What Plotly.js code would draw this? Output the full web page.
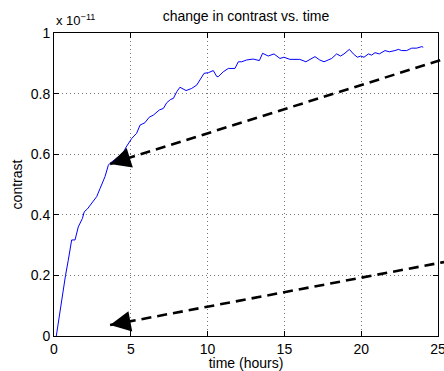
<!DOCTYPE html>
<html>
<head>
<meta charset="utf-8">
<script src="https://cdn.plot.ly/plotly-3.0.1.min.js"></script>
<style>html,body{margin:0;padding:0;background:#fff;}#chart{width:444px;height:371px;}</style>
</head>
<body>
<div id="chart"></div>
<script>
// time in hours
var timeHours = [0.15, 0.6, 0.75, 0.93, 1.15, 1.37, 1.58, 1.85, 1.97, 2.17,
  2.78, 3.0, 3.32, 3.54, 3.65, 4.5, 4.7, 5.06, 5.38, 5.6,
  5.92, 6.2, 6.47, 6.86, 7.12, 7.34, 7.6, 7.77, 7.99, 8.2,
  8.6, 8.96, 9.29, 9.5, 9.77, 10.05, 10.37, 10.6, 10.7, 11.02,
  11.35, 11.78, 12.0, 12.22, 12.54, 12.97, 13.37, 13.58, 13.95, 14.32,
  14.71, 14.97, 15.36, 16.0, 16.4, 16.99, 17.3, 17.58, 17.86, 18.08,
  18.4, 18.66, 18.88, 19.23, 19.49, 19.75, 19.97, 20.18, 20.47, 20.68,
  20.9, 21.18, 21.55, 21.83, 22.2, 22.42, 22.64, 22.96, 23.29, 23.61,
  23.94, 24.04];
// contrast in units of 1e-11
var contrastE11 = [0, 0.163, 0.2, 0.25, 0.317, 0.317, 0.36, 0.388, 0.41, 0.419,
  0.46, 0.487, 0.526, 0.564, 0.57, 0.604, 0.624, 0.652, 0.669, 0.696,
  0.704, 0.722, 0.729, 0.746, 0.751, 0.77, 0.781, 0.784, 0.806, 0.821,
  0.81, 0.817, 0.828, 0.845, 0.867, 0.869, 0.876, 0.856, 0.856, 0.872,
  0.883, 0.883, 0.905, 0.905, 0.911, 0.914, 0.909, 0.933, 0.924, 0.931,
  0.916, 0.92, 0.913, 0.913, 0.905, 0.922, 0.911, 0.905, 0.911, 0.916,
  0.931, 0.924, 0.931, 0.946, 0.931, 0.92, 0.924, 0.92, 0.931, 0.927,
  0.935, 0.931, 0.942, 0.938, 0.942, 0.946, 0.942, 0.942, 0.95, 0.95,
  0.955, 0.953];

var xTicks = [0, 5, 10, 15, 20, 25];
var yTicks = [0, 0.2, 0.4, 0.6, 0.8, 1];
var yTickLabels = ['0', '0.2', '0.4', '0.6', '0.8', '1'];

// annotation arrows (data units): tip and tail
var arrowTipTime = [3.65, 3.65];
var arrowTipContrast = [0.568, 0.036];
var arrowTailTime = [25.39, 25.39];
var arrowTailContrast = [0.914, 0.244];

var xMax = 25, yMax = 1;
var FONT = 'Liberation Sans, Arial, Helvetica, sans-serif';

var shapes = [], annotations = [];
for (var i = 0; i < arrowTipTime.length; i++) {
  shapes.push({
    type: 'line', xref: 'paper', yref: 'paper',
    x0: arrowTipTime[i] / xMax, y0: arrowTipContrast[i] / yMax,
    x1: arrowTailTime[i] / xMax, y1: arrowTailContrast[i] / yMax,
    line: {color: '#000', width: 2.6, dash: '10px,6px'}
  });
  var plotW = 384, plotH = 303;
  var dx = (arrowTailTime[i] - arrowTipTime[i]) / xMax * plotW;
  var dy = -(arrowTailContrast[i] - arrowTipContrast[i]) / yMax * plotH;
  var len = Math.sqrt(dx * dx + dy * dy);
  annotations.push({
    x: arrowTipTime[i], y: arrowTipContrast[i], xref: 'x', yref: 'y',
    text: ' ', showarrow: true, arrowhead: 2, arrowsize: 1.65, arrowwidth: 2.5,
    arrowcolor: '#000', ax: dx / len * 20, ay: dy / len * 20
  });
}
annotations.push({
  xref: 'paper', yref: 'paper', x: 0, y: 1, xanchor: 'left', yanchor: 'bottom',
  yshift: 3, showarrow: false,
  text: 'x 10<sup>\u221211</sup>', font: {family: FONT, size: 13, color: '#000'}
});

var trace = {
  x: timeHours, y: contrastE11, type: 'scatter', mode: 'lines',
  line: {color: '#0000ff', width: 1}, hoverinfo: 'skip'
};

var axisCommon = {
  showline: true, linecolor: '#000', linewidth: 1, mirror: 'ticks',
  ticks: 'inside', ticklen: 5, tickcolor: '#000', tickwidth: 1,
  showgrid: true, gridcolor: '#777', griddash: '1px,3px', gridwidth: 1,
  zeroline: false, tickfont: {family: FONT, size: 14, color: '#000'},
  ticklabeloverflow: 'allow',
  fixedrange: true
};

var layout = {
  width: 444, height: 371,
  margin: {l: 54, r: 6, t: 33, b: 35},
  paper_bgcolor: '#fff', plot_bgcolor: '#fff',
  showlegend: false,
  title: {text: 'change in contrast vs. time', font: {family: FONT, size: 14, color: '#000'},
    x: 0.554, xanchor: 'center', y: 0.957, yanchor: 'middle'},
  xaxis: Object.assign({}, axisCommon, {
    range: [0, xMax], tickvals: xTicks, ticktext: xTicks.map(String),
    title: {text: 'time (hours)', font: {family: FONT, size: 14, color: '#000'}, standoff: 3}
  }),
  yaxis: Object.assign({}, axisCommon, {
    range: [0, yMax], tickvals: yTicks, ticktext: yTickLabels,
    title: {text: 'contrast', font: {family: FONT, size: 14, color: '#000'}, standoff: 4}
  }),
  shapes: shapes,
  annotations: annotations
};

Plotly.newPlot('chart', [trace], layout, {displayModeBar: false, staticPlot: true});
</script>
</body>
</html>
